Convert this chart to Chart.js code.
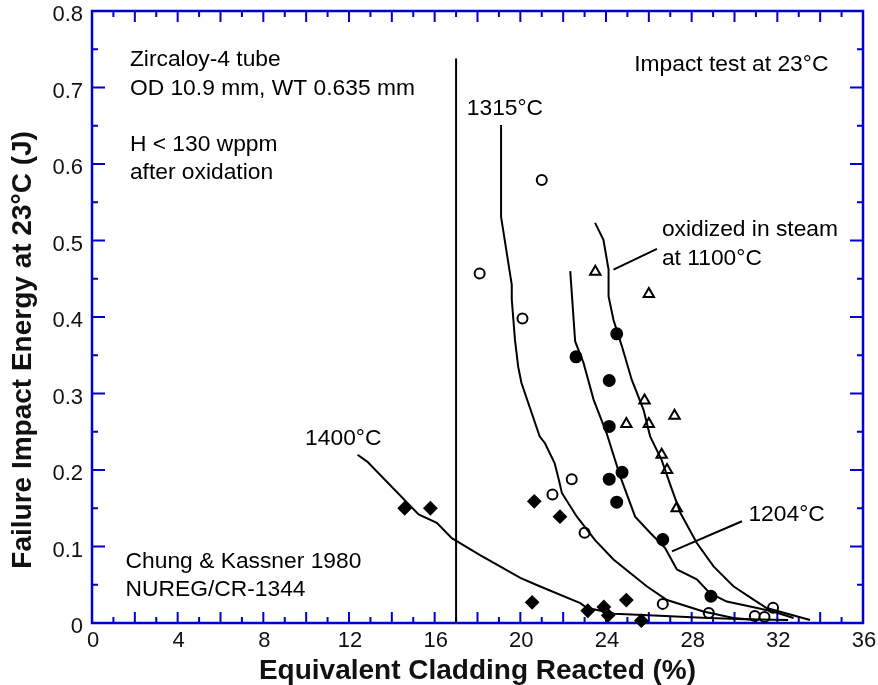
<!DOCTYPE html>
<html>
<head>
<meta charset="utf-8">
<script src="https://cdn.jsdelivr.net/npm/chart.js@4.4.1/dist/chart.umd.min.js"></script>
<style>
  html, body { margin: 0; padding: 0; background: #fff; }
  #wrap { width: 878px; height: 685px; }
</style>
</head>
<body>
<div id="wrap"><canvas id="impactChart"></canvas></div>
<script>
// Axis ranges / ticks
const xTicks = [0, 4, 8, 12, 16, 20, 24, 28, 32, 36];
const yTicks = [0, 0.1, 0.2, 0.3, 0.4, 0.5, 0.6, 0.7, 0.8];

// Test points: ECR (%) vs failure energy (J)
const open1315X = [18.1, 21.0, 20.1, 22.4, 21.5, 23.0, 26.65, 28.8, 31.8, 30.95, 31.4];
const open1315Y = [0.457, 0.579, 0.398, 0.188, 0.168, 0.118, 0.025, 0.013, 0.020, 0.009, 0.008];

const filled1204X = [24.5, 22.6, 24.15, 24.15, 24.75, 24.15, 24.5, 26.65, 28.9];
const filled1204Y = [0.378, 0.348, 0.317, 0.257, 0.197, 0.188, 0.158, 0.109, 0.035];

const tri1100X = [23.5, 26.0, 25.8, 27.2, 24.95, 26.0, 26.6, 26.85, 27.3];
const tri1100Y = [0.459, 0.430, 0.291, 0.271, 0.260, 0.260, 0.220, 0.200, 0.150];

const dia1400X = [14.6, 15.8, 20.65, 21.85, 20.55, 23.15, 23.9, 24.1, 24.95, 25.65];
const dia1400Y = [0.150, 0.150, 0.159, 0.139, 0.027, 0.016, 0.021, 0.010, 0.030, 0.003];

// Trend curves
const curve1400X = [12.4, 12.85, 15.25, 16.1, 16.8, 18.1, 20.0, 20.9, 22.8, 23.1, 24.4, 26.5, 28.5, 30.5, 32.5];
const curve1400Y = [0.220, 0.211, 0.142, 0.131, 0.111, 0.089, 0.059, 0.048, 0.026, 0.020, 0.012, 0.0095, 0.007, 0.005, 0.004];

const curve1315X = [19.1, 19.1, 19.6, 19.6, 19.75, 19.9, 20.05, 20.9, 21.15, 21.6, 21.8, 21.94, 22.64, 23.5, 24.35, 25.9, 26.85, 28.55, 29.95, 31.0];
const curve1315Y = [0.651, 0.531, 0.442, 0.423, 0.370, 0.335, 0.314, 0.244, 0.235, 0.209, 0.187, 0.170, 0.139, 0.108, 0.083, 0.048, 0.030, 0.015, 0.0065, 0.004];

const curve1204X = [22.33, 22.56, 22.95, 23.42, 24.03, 24.66, 25.36, 26.06, 26.76, 27.31, 28.24, 28.85, 29.64, 30.73, 31.8, 32.76];
const curve1204Y = [0.460, 0.368, 0.340, 0.292, 0.248, 0.192, 0.139, 0.118, 0.098, 0.070, 0.057, 0.039, 0.028, 0.0217, 0.015, 0.0065];

const curve1100X = [23.49, 23.88, 24.12, 24.12, 24.35, 24.74, 25.2, 25.75, 26.06, 26.6, 26.92, 27.47, 28.24, 29.02, 29.95, 30.89, 31.5, 32.6, 33.53];
const curve1100Y = [0.523, 0.501, 0.462, 0.427, 0.396, 0.362, 0.318, 0.279, 0.244, 0.213, 0.187, 0.144, 0.1046, 0.074, 0.048, 0.0305, 0.0196, 0.011, 0.004];

// Limit line at 17% ECR and label leaders
const limitX = [17, 17];
const limitY = [0, 0.738];
const steamLeaderX = [24.35, 26.38];
const steamLeaderY = [0.462, 0.489];
const leader1204X = [27.08, 30.35];
const leader1204Y = [0.0936, 0.133];

const zip = (xs, ys) => xs.map((x, i) => ({ x: x, y: ys[i] }));

const FONT = '"Liberation Sans", Arial, sans-serif';
const AXIS_BLUE = '#0000d0';
const Y_TITLE = 'Failure Impact Energy at 23°C (J)';

// Text notes placed in data units (left edge, baseline)
const notes = [
    { text: 'Zircaloy-4 tube', x: 1.77, y: 0.728 },
    { text: 'OD 10.9 mm, WT 0.635 mm', x: 1.77, y: 0.6905 },
    { text: 'H < 130 wppm', x: 1.77, y: 0.6174 },
    { text: 'after oxidation', x: 1.77, y: 0.5808 },
    { text: 'Impact test at 23°C', x: 25.32, y: 0.721 },
    { text: '1315°C', x: 17.5, y: 0.6645 },
    { text: 'oxidized in steam', x: 26.61, y: 0.5054 },
    { text: 'at 1100°C', x: 26.61, y: 0.4684 },
    { text: '1204°C', x: 30.65, y: 0.1328 },
    { text: '1400°C', x: 9.95, y: 0.233 },
    { text: 'Chung & Kassner 1980', x: 1.57, y: 0.0719 },
    { text: 'NUREG/CR-1344', x: 1.57, y: 0.0357 }
];

// Blue frame with inward ticks on all four sides, plus notes and y title
const framePlugin = {
    id: 'frame',
    beforeDatasetsDraw(chart) {
        const { ctx, chartArea: a, scales } = chart;
        const xs = scales.x, ys = scales.y;
        ctx.save();
        ctx.strokeStyle = AXIS_BLUE;
        ctx.lineWidth = 2.5;
        ctx.strokeRect(a.left, a.top, a.right - a.left, a.bottom - a.top);
        ctx.lineWidth = 2;
        ctx.beginPath();
        for (let v = 0; v <= 36; v++) {
            const px = xs.getPixelForValue(v);
            const len = v % 2 === 0 ? 11 : 6;
            ctx.moveTo(px, a.bottom); ctx.lineTo(px, a.bottom - len);
            ctx.moveTo(px, a.top); ctx.lineTo(px, a.top + len);
        }
        for (let k = 0; k <= 16; k++) {
            const py = ys.getPixelForValue(k * 0.05);
            const len = k % 2 === 0 ? 13 : 6;
            ctx.moveTo(a.left, py); ctx.lineTo(a.left + len, py);
            ctx.moveTo(a.right, py); ctx.lineTo(a.right - len, py);
        }
        ctx.stroke();
        ctx.restore();
    },
    afterDatasetsDraw(chart) {
        const { ctx, scales } = chart;
        ctx.save();
        ctx.fillStyle = '#000';
        ctx.font = '22.8px ' + FONT;
        ctx.textBaseline = 'alphabetic';
        ctx.textAlign = 'left';
        notes.forEach(n => {
            ctx.fillText(n.text, scales.x.getPixelForValue(n.x), scales.y.getPixelForValue(n.y));
        });
        // y title sits a bit below the axis midpoint
        ctx.translate(23, scales.y.getPixelForValue(0.357));
        ctx.rotate(-Math.PI / 2);
        ctx.font = 'bold 28px ' + FONT;
        ctx.textAlign = 'center';
        ctx.textBaseline = 'middle';
        ctx.fillStyle = '#111';
        ctx.fillText(Y_TITLE, 0, 0);
        ctx.restore();
    }
};

const lineSet = (xs, ys) => ({
    type: 'line',
    data: zip(xs, ys),
    borderColor: '#000',
    borderWidth: 2,
    pointRadius: 0,
    fill: false,
    tension: 0,
    clip: false
});

const pointSet = (xs, ys, style, radius, fillColor) => ({
    type: 'scatter',
    data: zip(xs, ys),
    pointStyle: style,
    pointRadius: radius,
    pointBorderWidth: 2,
    pointBorderColor: '#000',
    pointBackgroundColor: fillColor,
    showLine: false,
    clip: false
});

// keep the plot box fixed regardless of tick label overhang
const noOverhang = s => {
    s.paddingLeft = 0; s.paddingRight = 0;
    s.paddingTop = 0; s.paddingBottom = 0;
};

new Chart(document.getElementById('impactChart'), {
    type: 'scatter',
    data: {
        datasets: [
            lineSet(limitX, limitY),
            lineSet(curve1400X, curve1400Y),
            lineSet(curve1315X, curve1315Y),
            lineSet(curve1204X, curve1204Y),
            lineSet(curve1100X, curve1100Y),
            lineSet(steamLeaderX, steamLeaderY),
            lineSet(leader1204X, leader1204Y),
            pointSet(open1315X, open1315Y, 'circle', 5, '#fff'),
            pointSet(filled1204X, filled1204Y, 'circle', 5.5, '#000'),
            pointSet(tri1100X, tri1100Y, 'triangle', 6, '#fff'),
            pointSet(dia1400X, dia1400Y, 'rectRot', 6, '#000')
        ]
    },
    options: {
        responsive: true,
        maintainAspectRatio: false,
        animation: false,
        layout: { padding: { left: 0, right: 15, top: 11, bottom: 0 } },
        plugins: {
            legend: { display: false },
            tooltip: { enabled: false }
        },
        scales: {
            x: {
                type: 'linear',
                min: 0,
                max: 36,
                afterBuildTicks: s => { s.ticks = xTicks.map(v => ({ value: v })); },
                afterFit: s => { s.height = 62; noOverhang(s); },
                grid: { display: false, drawTicks: false },
                border: { display: false },
                ticks: {
                    padding: 5,
                    labelOffset: 1,
                    color: '#111',
                    font: { family: FONT, size: 22 }
                },
                title: {
                    display: true,
                    text: 'Equivalent Cladding Reacted (%)',
                    color: '#111',
                    padding: { top: 0, bottom: -3 },
                    font: { family: FONT, size: 28, weight: 'bold' }
                }
            },
            y: {
                type: 'linear',
                min: 0,
                max: 0.8,
                afterBuildTicks: s => { s.ticks = yTicks.map(v => ({ value: v })); },
                afterFit: s => { s.width = 92; noOverhang(s); },
                grid: { display: false, drawTicks: false },
                border: { display: false },
                ticks: {
                    padding: 9,
                    labelOffset: 4,
                    color: '#111',
                    font: { family: FONT, size: 22 },
                    callback: v => String(+v.toFixed(1))
                }
            }
        }
    },
    plugins: [framePlugin]
});
</script>
</body>
</html>
